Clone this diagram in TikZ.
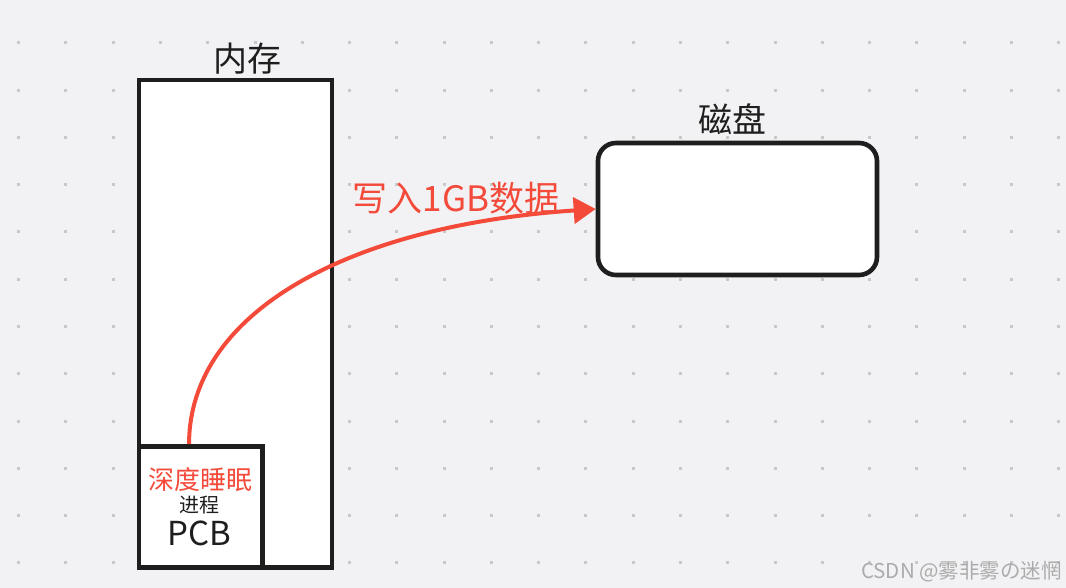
\documentclass[tikz,border=0pt]{standalone}
\usepackage{fontspec}
\setmainfont{Noto Sans CJK SC}
\usetikzlibrary{arrows.meta}
\definecolor{bgc}{HTML}{F2F2F4}
\definecolor{dotc}{HTML}{C9C9CB}
\definecolor{inkc}{HTML}{1E1E1E}
\definecolor{redc}{HTML}{F44A3A}
\definecolor{wmc}{HTML}{ABABAB}
\tikzset{
  box/.style={draw=inkc, fill=white, line width=4.6pt, inner sep=0pt},
  title/.style={text=inkc, inner sep=0pt, font=\fontsize{34}{40}\selectfont},
  redtext/.style={text=redc, inner sep=0pt},
  arrowline/.style={draw=redc, line width=4pt, -{Triangle[length=22pt,width=26pt]}},
}
\begin{document}
\begin{tikzpicture}[x=1pt,y=-1pt]
\fill[bgc] (0,0) rectangle (1066,588);
\useasboundingbox (0,0) rectangle (1066,588);
\foreach \i in {0,...,22}
  \foreach \j in {0,...,11}
    \fill[dotc] ({18.6+47.28*\i-1.5},{43+47.25*\j-1.5}) rectangle ++(3,3);

\node[box, minimum width=193pt, minimum height=487.5pt] (mem) at (235.5,323.75) {};
\node[box, minimum width=123.3pt, minimum height=121pt] (pcb) at (200.65,507) {};
\node[box, rounded corners=18pt, minimum width=279pt, minimum height=132pt] (disk) at (737.5,209) {};

\node[title] (memlabel) at (247.5,59) {内存};
\node[title] (disklabel) at (732,119.5) {磁盘};

\node[redtext, font=\fontsize{26}{30}\selectfont] (sleep) at (200.5,480) {深度睡眠};
\node[text=inkc, inner sep=0pt, font=\fontsize{20}{24}\selectfont] (proc) at (199.5,505.5) {进程};
\node[text=inkc, inner sep=0pt, font=\fontsize{33}{38}\selectfont] (pcbtext) at (199.5,533.3) {PCB};

\node[redtext, font=\fontsize{35}{40}\selectfont] (write) at (456,198) {写入1GB数据};

\draw[arrowline] ([xshift=-11.6pt]pcb.north) .. controls +(0,-130) and +(-251,17) .. (disk.west);

\node[text=wmc, inner sep=0pt, anchor=east, font=\fontsize{20.5}{24}\selectfont] (wm) at (1062,571.5) {CSDN @雾非雾の迷惘};
\end{tikzpicture}
\end{document}
